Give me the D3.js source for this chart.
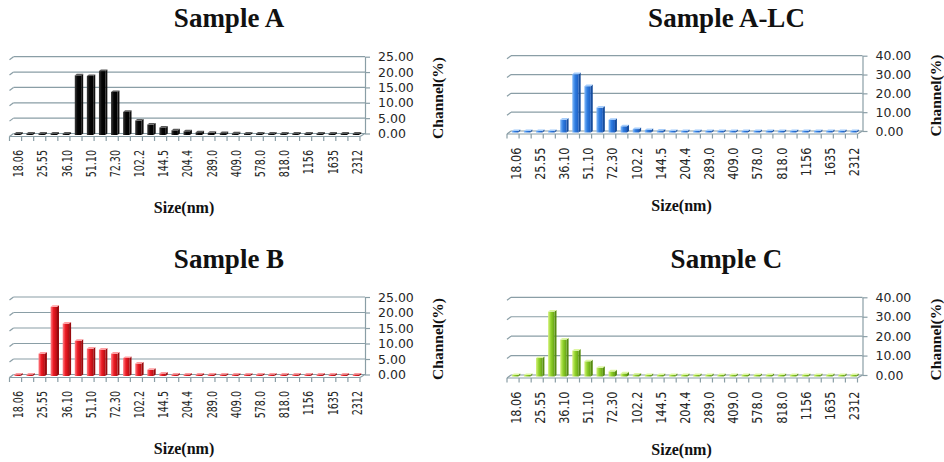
<!DOCTYPE html>
<html>
<head>
<meta charset="utf-8">
<script src="https://cdn.jsdelivr.net/npm/d3@7"></script>
<style>
  body { margin: 0; background: #fff; }
</style>
</head>
<body>
<div id="chart"></div>
<script>
// data ++++++++++++++++++++++++++++++++++++++++++
const sizes = ["18.06", "21.48", "25.55", "30.38", "36.10", "42.93", "51.10", "60.77", "72.30", "85.97",
  "102.2", "121.5", "144.5", "171.8", "204.4", "243.1", "289.0", "343.7", "409.0", "486.4",
  "578.0", "687.4", "818.0", "972.8", "1156", "1375", "1635", "1944", "2312"];

const sampleA = [0, 0, 0, 0, 0, 19.4, 19.2, 20.8, 14.0, 7.5, 4.7, 3.4, 2.4, 1.5, 1.2, 0.9, 0.7, 0.6, 0.5, 0.4,
  0.3, 0.2, 0.1, 0.1, 0, 0, 0, 0, 0];
const sampleALC = [0, 0, 0, 0, 6.8, 31.0, 24.6, 13.2, 6.7, 3.3, 1.8, 1.3, 1.0, 0.8, 0.6, 0.5, 0.4, 0.3, 0.3, 0.2,
  0.1, 0, 0, 0, 0, 0, 0, 0, 0];
const sampleB = [0, 0, 7.2, 22.3, 16.9, 11.3, 8.8, 8.5, 7.2, 5.8, 4.0, 2.0, 0.8, 0.3, 0.2, 0.1, 0, 0, 0, 0,
  0, 0, 0, 0, 0, 0, 0, 0, 0];
const sampleC = [0, 0, 9.5, 33.4, 19.0, 13.3, 7.8, 4.5, 2.6, 1.6, 1.0, 0.6, 0.4, 0.3, 0.2, 0.1, 0.1, 0, 0, 0,
  0, 0, 0, 0, 0, 0, 0, 0, 0];

const ticks25 = [0, 5, 10, 15, 20, 25];
const ticks40 = [0, 10, 20, 30, 40];
const titles = ["Sample A", "Sample A-LC", "Sample B", "Sample C"];
const xTitle = "Size(nm)";
const yTitle = "Channel(%)";
// data ------------------------------------------

const width = 944, height = 462;
const gridColor = "#8a9ea6";
const dx = 4, dy = 3; // depth of the 3D floor / walls

const palettes = {
  black: { light: "#3c3c3c", mid: "#050505", dark: "#000000", top: "#5a5a5a", side: "#111111" },
  blue:  { light: "#86bbf8", mid: "#2f7de1", dark: "#1c5cbf", top: "#a6cdfb", side: "#174d9c" },
  red:   { light: "#ff8086", mid: "#ec1b24", dark: "#b40d12", top: "#ff9da1", side: "#980a0e" },
  green: { light: "#d6f27e", mid: "#8fd12a", dark: "#64a114", top: "#def7a2", side: "#568b10" }
};

// panel layout (values come from the arrays above)
const panels = [
  { title: titles[0], values: sampleA,   ticks: ticks25, pal: palettes.black, ox: 0,     top: 56.7,  zero: 133.5, titleY: 27,  lblScale: 0.66 },
  { title: titles[1], values: sampleALC, ticks: ticks40, pal: palettes.blue,  ox: 497.5, top: 55.7,  zero: 131,   titleY: 27,  lblScale: 0.78 },
  { title: titles[2], values: sampleB,   ticks: ticks25, pal: palettes.red,   ox: 0,     top: 297,   zero: 374.5, titleY: 268, lblScale: 0.66 },
  { title: titles[3], values: sampleC,   ticks: ticks40, pal: palettes.green, ox: 497.5, top: 297.3, zero: 375,   titleY: 268, lblScale: 0.78 }
];

const svg = d3.select("#chart")
  .append("svg")
  .attr("width", width)
  .attr("height", height)
  .style("font-family", "'DejaVu Sans', sans-serif");

const defs = svg.append("defs");

panels.forEach((p, i) => drawPanel(p, i));

function drawPanel(p, i) {
  const g = svg.append("g").attr("class", "panel");

  const xf0 = 9.5 + p.ox, xf1 = 360 + p.ox;   // floor front edge
  const xb0 = xf0 + dx, xb1 = 365 + p.ox;     // back wall
  const yf = p.zero + dy;

  const y = d3.scaleLinear().domain([0, d3.max(p.ticks)]).range([p.zero, p.top]);
  const x = d3.scaleBand().domain(sizes).range([xf0, xf1]).paddingInner(0.5).paddingOuter(0.25);
  const bw = x.bandwidth();

  // gradient for the column faces
  const grad = defs.append("linearGradient").attr("id", "bar-grad-" + i)
    .attr("x1", "0").attr("x2", "1").attr("y1", "0").attr("y2", "0");
  grad.append("stop").attr("offset", "0").attr("stop-color", p.pal.light);
  grad.append("stop").attr("offset", "0.45").attr("stop-color", p.pal.mid);
  grad.append("stop").attr("offset", "1").attr("stop-color", p.pal.dark);

  // back wall gridlines + side wall stubs
  const grid = g.append("g").attr("stroke", gridColor).attr("stroke-width", 1.2);
  p.ticks.forEach(t => {
    grid.append("line").attr("x1", xb0).attr("x2", xb1).attr("y1", y(t)).attr("y2", y(t));
    grid.append("line").attr("x1", xb0).attr("x2", xb0 - dx).attr("y1", y(t)).attr("y2", y(t) + dy);
  });

  // floor
  grid.append("line").attr("x1", xf0).attr("x2", xf1).attr("y1", yf).attr("y2", yf);
  grid.append("line").attr("x1", xf1).attr("x2", xb1).attr("y1", yf).attr("y2", p.zero);

  // category ticks on the floor edge
  const bounds = sizes.map(d => x(d) - x.step() * x.paddingInner() / 2);
  bounds.push(bounds[bounds.length - 1] + x.step());
  bounds.forEach(bx => {
    grid.append("line").attr("x1", bx).attr("x2", bx).attr("y1", yf).attr("y2", yf + 4.5);
  });

  // value axis on the right
  const axis = g.append("g")
    .attr("transform", `translate(${xb1},0)`)
    .call(d3.axisRight(y).tickValues(p.ticks).tickSize(5).tickSizeOuter(0).tickFormat(d3.format(".2f")));
  axis.select(".domain").attr("stroke", gridColor).attr("stroke-width", 1.2);
  axis.selectAll(".tick line").attr("stroke", gridColor).attr("stroke-width", 1.2);
  axis.selectAll(".tick text")
    .attr("x", 13)
    .attr("font-family", "'DejaVu Sans', sans-serif")
    .attr("font-size", 12.5)
    .attr("fill", "#262626");

  // columns
  const bars = g.append("g");
  const d = 2, dd = 1.6;
  sizes.forEach((s, k) => {
    const v = p.values[k];
    const cx = x(s) + bw / 2 + 2;
    const base = p.zero + 1.5;
    const top = Math.min(y(v) + 1.5, base - 1.5); // zero columns still show a flat slab
    const l = cx - 3.2, r = cx + 3.2;
    bars.append("polygon")
      .attr("points", [[r, top], [r + d, top - dd], [r + d, base - dd], [r, base]].join(" "))
      .attr("fill", p.pal.side);
    bars.append("rect")
      .attr("x", l).attr("y", top).attr("width", r - l).attr("height", base - top)
      .attr("fill", `url(#bar-grad-${i})`);
    bars.append("polygon")
      .attr("points", [[l, top], [l + d, top - dd], [r + d, top - dd], [r, top]].join(" "))
      .attr("fill", p.pal.top);
  });

  // category labels (every other size)
  g.append("g").selectAll("text")
    .data(sizes.filter((s, k) => k % 2 === 0))
    .enter()
    .append("text")
    .attr("transform", s => `translate(${x(s) + bw / 2 + 2.5},${p.zero + 16.5}) rotate(-90) scale(${p.lblScale},1)`)
    .attr("text-anchor", "end")
    .attr("dy", "0.36em")
    .attr("font-size", 14.5)
    .attr("fill", "#262626")
    .text(s => s);

  // titles
  const cxPanel = 229 + p.ox;
  g.append("text")
    .attr("x", cxPanel).attr("y", p.titleY)
    .attr("text-anchor", "middle")
    .attr("font-family", "'Liberation Serif', serif")
    .attr("font-weight", "bold")
    .attr("font-size", 27)
    .attr("fill", "#111")
    .text(p.title);

  g.append("text")
    .attr("x", 184 + p.ox).attr("y", p.zero + 79.5)
    .attr("text-anchor", "middle")
    .attr("font-family", "'Liberation Serif', serif")
    .attr("font-weight", "bold")
    .attr("font-size", 16)
    .attr("fill", "#111")
    .text(xTitle);

  g.append("text")
    .attr("transform", `translate(${443 + p.ox},${p.zero - 35.5}) rotate(-90)`)
    .attr("text-anchor", "middle")
    .attr("font-family", "'Liberation Serif', serif")
    .attr("font-weight", "bold")
    .attr("font-size", 15.5)
    .attr("fill", "#111")
    .text(yTitle);
}
</script>
</body>
</html>
